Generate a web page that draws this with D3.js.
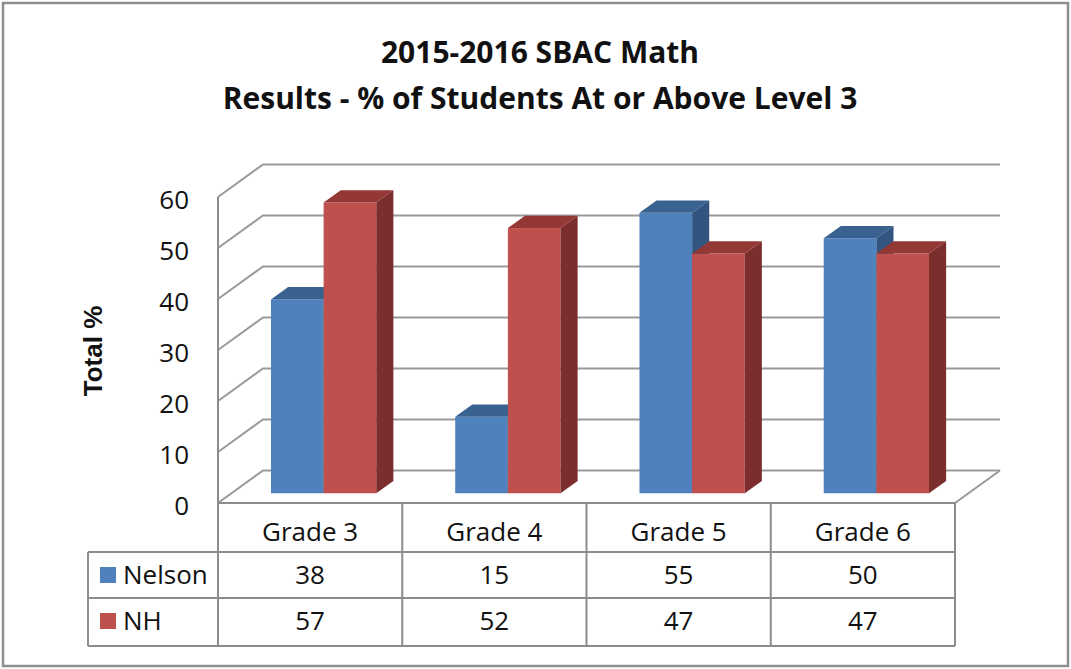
<!DOCTYPE html>
<html><head><meta charset="utf-8">
<script src="https://cdn.jsdelivr.net/npm/d3@7"></script>
<style>html,body{margin:0;padding:0;background:#fff;}svg{display:block;}</style>
</head><body>
<svg id="chart" width="1071" height="669"></svg>
<script>
// ---- data ----
const titleLines = ["2015-2016 SBAC Math", "Results - % of Students At or Above Level 3"];
const yAxisTitle = "Total %";
const categories = ["Grade 3", "Grade 4", "Grade 5", "Grade 6"];
const seriesNames = ["Nelson", "NH"];
const nelsonValues = [38, 15, 55, 50];
const nhValues = [57, 52, 47, 47];
const yTicks = [0, 10, 20, 30, 40, 50, 60];

// ---- layout ----
const svg = d3.select("#chart");
const W = 1071, H = 669;
const font = "'Open Sans', sans-serif";
const colors = {
  Nelson: {front: "#4F81BD", top: "#3A6291", side: "#31557F"},
  NH: {front: "#C0504D", top: "#943836", side: "#7B2E2D"}
};
const gridColor = "#999999";
const DX = 45, DY = -32.5;      // depth offset for the back wall
const d0 = 0.3, d1 = 0.68;      // bar depth (front/back fraction)

const x0 = d3.scaleBand().domain(categories).range([218, 955]).paddingInner(0).paddingOuter(0);
const x1 = d3.scaleBand().domain(seriesNames).range([0, x0.bandwidth()]).paddingInner(0).paddingOuter(0.75);
const y = d3.scaleLinear().domain([0, 60]).range([503, 197]);

// outer border
svg.append("rect").attr("x", 3).attr("y", 3).attr("width", W - 6).attr("height", H - 6)
  .attr("fill", "#fff").attr("stroke", "#8E8E8E").attr("stroke-width", 2.5);

// title
svg.append("g").selectAll("text").data(titleLines).join("text")
  .attr("x", 540).attr("y", (d, i) => 63 + i * 46)
  .attr("text-anchor", "middle").attr("font-family", font).attr("font-weight", "bold")
  .attr("font-size", 30).attr("fill", "#111").text(d => d);

// walls / gridlines
const grid = svg.append("g").attr("fill", "none").attr("stroke", gridColor).attr("stroke-width", 2);
const xL = x0.range()[0], xR = x0.range()[1];
yTicks.forEach(t => {
  const yy = y(t);
  grid.append("path").attr("d", `M${xL},${yy} L${xL + DX},${yy + DY} L${xR + DX},${yy + DY}`);
});
// floor front-right slant
grid.append("path").attr("d", `M${xR},${y(0)} L${xR + DX},${y(0) + DY}`);

// y tick labels
svg.append("g").selectAll("text").data(yTicks).join("text")
  .attr("x", 189).attr("y", d => y(d) + 12)
  .attr("text-anchor", "end").attr("font-family", font).attr("font-size", 26)
  .attr("fill", "#111").text(d => d);

// y axis title
svg.append("text").attr("transform", "translate(102,351) rotate(-90)")
  .attr("text-anchor", "middle").attr("font-family", "'Liberation Sans', Arial, sans-serif")
  .attr("font-weight", "bold").attr("font-size", 26).attr("fill", "#111").text(yAxisTitle);

// bars
const rows = categories.map((c, i) => ({cat: c, Nelson: nelsonValues[i], NH: nhValues[i]}));
const bars = svg.append("g");
rows.forEach(r => {
  seriesNames.forEach(s => {
    const v = r[s];
    const fx = x0(r.cat) + x1(s) + d0 * DX;
    const bw = x1.bandwidth();
    const fyB = y(0) + d0 * DY;
    const fyT = y(v) + d0 * DY;
    const ddx = (d1 - d0) * DX, ddy = (d1 - d0) * DY;
    const c = colors[s];
    // front
    bars.append("rect").attr("x", fx).attr("y", fyT).attr("width", bw).attr("height", fyB - fyT)
      .attr("fill", c.front);
    // top
    bars.append("path").attr("fill", c.top)
      .attr("d", `M${fx},${fyT} L${fx + ddx},${fyT + ddy} L${fx + bw + ddx},${fyT + ddy} L${fx + bw},${fyT} Z`);
    // side
    bars.append("path").attr("fill", c.side)
      .attr("d", `M${fx + bw},${fyT} L${fx + bw + ddx},${fyT + ddy} L${fx + bw + ddx},${fyB + ddy} L${fx + bw},${fyB} Z`);
  });
});

// data table
const tbl = svg.append("g").attr("fill", "none").attr("stroke", "#8C8C8C").attr("stroke-width", 2);
const rowY = [503, 552, 598, 646];
const legendLeft = 88;
// front floor line (table top)
tbl.append("line").attr("x1", xL).attr("x2", xR).attr("y1", rowY[0]).attr("y2", rowY[0]);
[1, 2, 3].forEach(i => tbl.append("line").attr("x1", legendLeft).attr("x2", xR).attr("y1", rowY[i]).attr("y2", rowY[i]));
// vertical lines
tbl.append("line").attr("x1", xL).attr("x2", xL).attr("y1", y(60)).attr("y2", rowY[3]);
tbl.append("line").attr("x1", legendLeft).attr("x2", legendLeft).attr("y1", rowY[1]).attr("y2", rowY[3]);
categories.forEach(c => {
  const xe = x0(c) + x0.bandwidth();
  tbl.append("line").attr("x1", xe).attr("x2", xe).attr("y1", rowY[0]).attr("y2", rowY[3]);
});

const txt = svg.append("g").attr("font-family", font).attr("font-size", 26).attr("fill", "#111");
txt.selectAll("text.hdr").data(categories).join("text").attr("class", "hdr")
  .attr("x", d => x0(d) + x0.bandwidth() / 2).attr("y", 541).attr("text-anchor", "middle").text(d => d);
const seriesData = [nelsonValues, nhValues];
const rowBase = [584, 630];
seriesNames.forEach((s, si) => {
  txt.append("g").selectAll("text").data(seriesData[si]).join("text")
    .attr("x", (d, i) => x0(categories[i]) + x0.bandwidth() / 2).attr("y", rowBase[si])
    .attr("text-anchor", "middle").text(d => d);
  svg.append("rect").attr("x", 100).attr("y", rowBase[si] - 17).attr("width", 16).attr("height", 16)
    .attr("fill", colors[s].front);
  txt.append("text").attr("x", 123).attr("y", rowBase[si]).text(s);
});
</script>
</body></html>
